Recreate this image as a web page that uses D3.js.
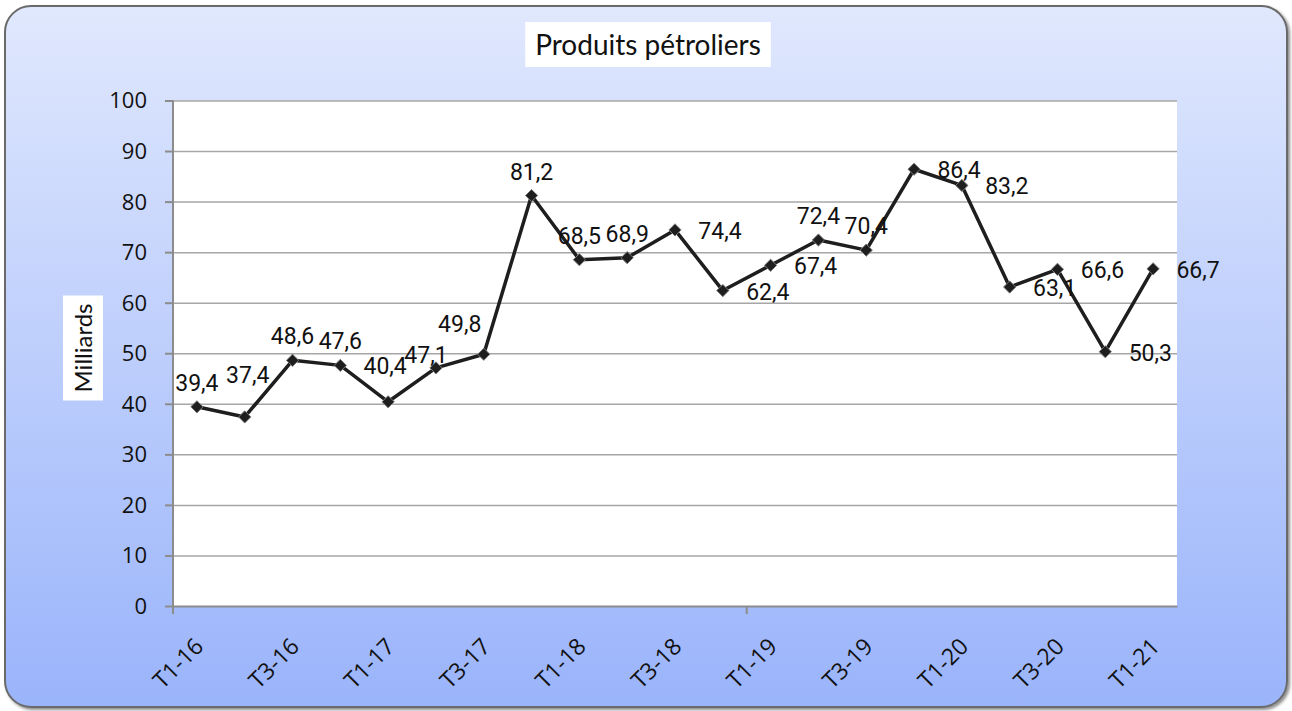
<!DOCTYPE html>
<html lang="fr">
<head>
<meta charset="UTF-8">
<title>Produits pétroliers</title>
<script src="https://d3js.org/d3.v7.min.js"></script>
<style>
    body { margin: 0; background: #fff; }
    .axis text { font-family: "Open Sans", sans-serif; font-size: 22px; fill: #111; }
    .xaxis text { font-size: 23px; }
    .axis path, .axis line { stroke: #8c8c8c; stroke-width: 2px; }
    .grid line { stroke: #a6a6a6; stroke-width: 1.5px; }
    .grid path { display: none; }
    .lbl { font-family: Roboto, sans-serif; font-size: 23px; fill: #111; }
</style>
</head>
<body>
<svg id="chart" width="1292" height="711"></svg>
<script>
    // trimestres
    const categories = [
        "T1-16", "T2-16", "T3-16", "T4-16",
        "T1-17", "T2-17", "T3-17", "T4-17",
        "T1-18", "T2-18", "T3-18", "T4-18",
        "T1-19", "T2-19", "T3-19", "T4-19",
        "T1-20", "T2-20", "T3-20", "T4-20",
        "T1-21"
    ];
    // milliards
    const values = [39.4, 37.4, 48.6, 47.6, 40.4, 47.1, 49.8, 81.2, 68.5, 68.9, 74.4,
                    62.4, 67.4, 72.4, 70.4, 86.4, 83.2, 63.1, 66.6, 50.3, 66.7];
    // where each value label sits
    const labelPlace = ["above", "high", "above", "above", "raised", "leftUp", "aboveLeft",
                        "above", "above", "above", "right", "right", "right", "above",
                        "above", "right", "right", "right", "right", "right", "right"];
    const shownTicks = ["T1-16", "T3-16", "T1-17", "T3-17", "T1-18", "T3-18",
                        "T1-19", "T3-19", "T1-20", "T3-20", "T1-21"];
    const yTicks = [0, 10, 20, 30, 40, 50, 60, 70, 80, 90, 100];

    const placeOffset = {
        above: [0, -16], high: [3, -34], raised: [-3, -28],
        leftUp: [-10, -5], aboveLeft: [-24, -22], right: [45, 9]
    };

    const frFormat = d3.formatLocale({decimal: ",", thousands: " ", grouping: [3], currency: ["", " €"]}).format(".1f");

    const svg = d3.select("#chart");
    const plot = {left: 173, right: 1177, top: 100.5, bottom: 606};

    // background
    const defs = svg.append("defs");
    const grad = defs.append("linearGradient").attr("id", "bg")
        .attr("x1", 0).attr("y1", 0).attr("x2", 0).attr("y2", 1);
    grad.append("stop").attr("offset", "0%").attr("stop-color", "#e0e8fd");
    grad.append("stop").attr("offset", "100%").attr("stop-color", "#9ab4fb");
    const shadow = defs.append("filter").attr("id", "sh").attr("x", "-5%").attr("y", "-5%")
        .attr("width", "110%").attr("height", "110%");
    shadow.append("feDropShadow").attr("dx", 2).attr("dy", 2).attr("stdDeviation", 1.5)
        .attr("flood-color", "#000").attr("flood-opacity", 0.45);

    svg.append("rect")
        .attr("x", 5).attr("y", 6).attr("width", 1282).attr("height", 701)
        .attr("rx", 26).attr("ry", 26)
        .attr("fill", "url(#bg)").attr("stroke", "#6b6b6b").attr("stroke-width", 2)
        .attr("filter", "url(#sh)");

    svg.append("rect")
        .attr("x", plot.left).attr("y", plot.top)
        .attr("width", plot.right - plot.left).attr("height", plot.bottom - plot.top)
        .attr("fill", "#fff");

    const x = d3.scaleBand().domain(categories).range([plot.left, plot.right]).padding(0);
    const y = d3.scaleLinear().domain([0, 100]).range([plot.bottom, plot.top]);
    const cx = c => x(c) + x.bandwidth() / 2;

    // grid
    svg.append("g").attr("class", "grid")
        .attr("transform", `translate(${plot.left},0)`)
        .call(d3.axisLeft(y).tickValues(yTicks.slice(1)).tickSize(-(plot.right - plot.left)).tickFormat(""));

    // y axis
    svg.append("g").attr("class", "axis")
        .attr("transform", `translate(${plot.left},0)`)
        .call(d3.axisLeft(y).tickValues(yTicks).tickSize(8).tickPadding(18).tickSizeOuter(0))
        .call(g => g.select(".domain").attr("d", `M0,${plot.top}V${plot.bottom + 8}`))
        .selectAll("text").attr("dy", "0.34em");

    // x axis
    const xAxis = svg.append("g").attr("class", "axis xaxis")
        .attr("transform", `translate(0,${plot.bottom})`)
        .call(d3.axisBottom(x).tickValues(shownTicks).tickSize(0).tickPadding(0).tickSizeOuter(0));
    xAxis.selectAll("text")
        .attr("text-anchor", "end")
        .attr("dy", 0)
        .attr("transform", "translate(8,42) rotate(-45)");
    xAxis.append("line")
        .attr("x1", x(categories[12])).attr("x2", x(categories[12]))
        .attr("y1", 0).attr("y2", 8);

    // line
    const line = d3.line().x((d, i) => cx(categories[i])).y(d => y(d));
    svg.append("path").datum(values)
        .attr("fill", "none").attr("stroke", "#1e1e1e").attr("stroke-width", 3.5)
        .attr("stroke-linejoin", "round")
        .attr("d", line);

    // markers
    svg.selectAll(".mk").data(values).enter().append("path")
        .attr("class", "mk")
        .attr("d", d3.symbol().type(d3.symbolDiamond2).size(95))
        .attr("transform", (d, i) => `translate(${cx(categories[i])},${y(d)})`)
        .attr("fill", "#1e1e1e").attr("stroke", "#7a7a7a").attr("stroke-width", 1);

    // value labels
    svg.selectAll(".lbl").data(values).enter().append("text")
        .attr("class", "lbl")
        .attr("text-anchor", "middle")
        .attr("x", (d, i) => cx(categories[i]) + placeOffset[labelPlace[i]][0])
        .attr("y", (d, i) => y(d) + placeOffset[labelPlace[i]][1])
        .text(d => frFormat(d));

    // title on white box
    const titleBox = svg.append("rect").attr("fill", "#fff");
    const title = svg.append("text")
        .attr("x", 648).attr("y", 55)
        .attr("text-anchor", "middle")
        .style("font-family", "Lato, sans-serif").style("font-size", "28px").style("fill", "#111")
        .text("Produits pétroliers");
    const tb = title.node().getBBox();
    titleBox.attr("x", tb.x - 10).attr("y", 22).attr("width", tb.width + 20).attr("height", 45);

    // y title on white box
    const yBox = svg.append("rect").attr("fill", "#fff");
    const yTitle = svg.append("text")
        .attr("transform", "translate(92,348) rotate(-90)")
        .attr("text-anchor", "middle")
        .style("font-family", "Lato, sans-serif").style("font-size", "24px").style("fill", "#111")
        .text("Milliards");
    const yb = yTitle.node().getBBox();
    yBox.attr("x", 63).attr("y", 348 - yb.width / 2 - 8).attr("width", 40).attr("height", yb.width + 16);
</script>
</body>
</html>
